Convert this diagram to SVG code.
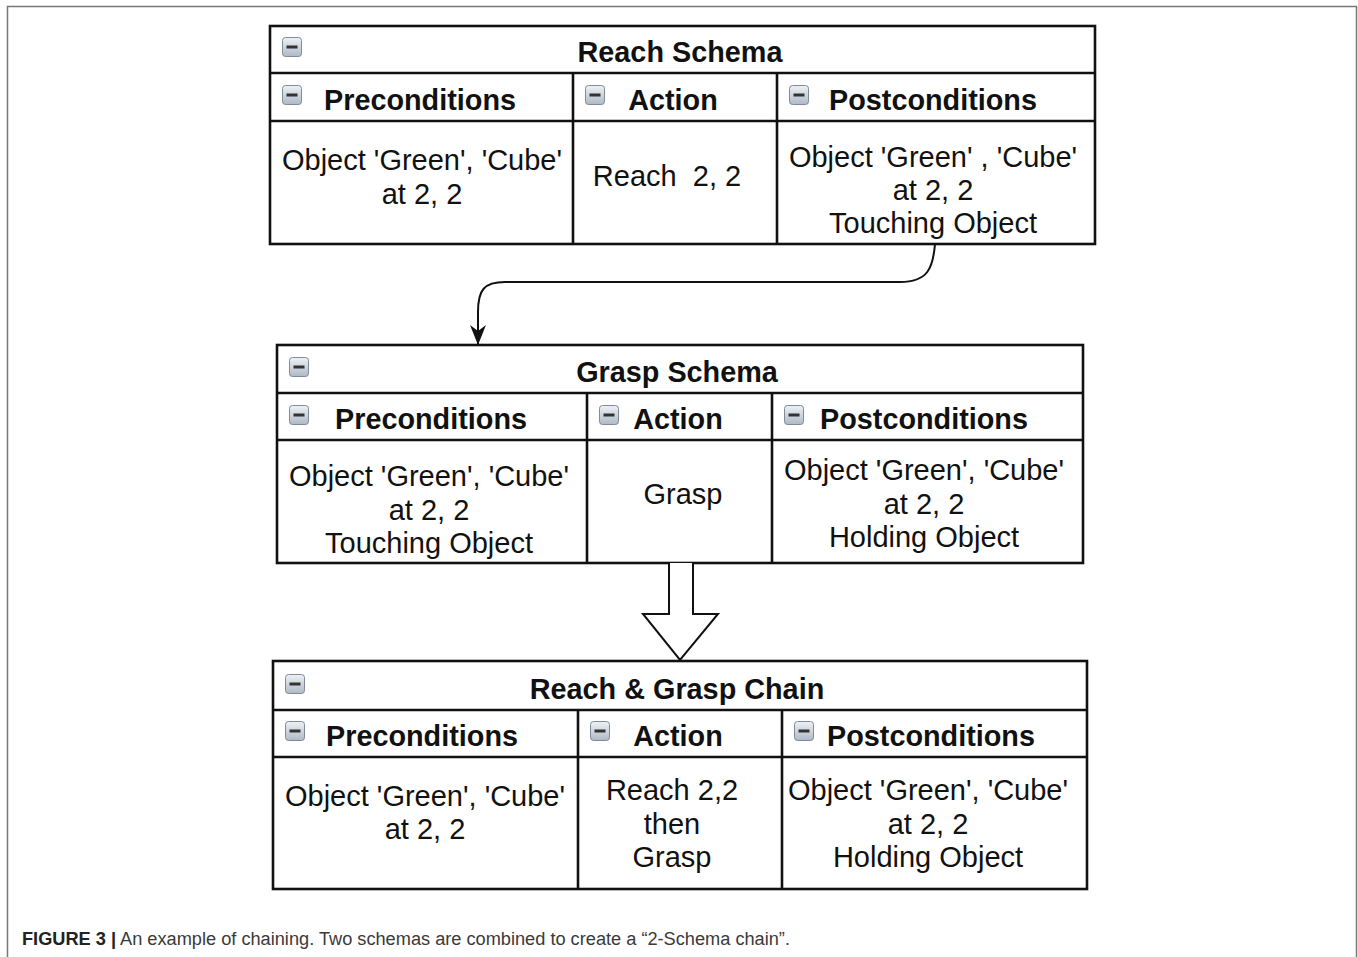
<svg xmlns="http://www.w3.org/2000/svg" width="1358" height="957" viewBox="0 0 1358 957">
<style>
.box{fill:#fff;stroke:#111;stroke-width:2.6}
.ln{stroke:#111;stroke-width:2.6;fill:none}
.t{font-family:"Liberation Sans",Arial,sans-serif;font-size:28.8px;font-weight:bold;fill:#111;text-anchor:middle}
.b{font-family:"Liberation Sans",Arial,sans-serif;font-size:29px;fill:#111;text-anchor:middle}
.cap{font-family:"Liberation Sans",Arial,sans-serif;font-size:18px;fill:#3a3a3a}
</style>
<defs>
<linearGradient id="ig" x1="0" y1="0" x2="0" y2="1">
<stop offset="0" stop-color="#eef2f7"/>
<stop offset="1" stop-color="#aeb9c6"/>
</linearGradient>
<g id="icon">
<rect x="0.5" y="0.5" width="19" height="19" rx="3" fill="url(#ig)" stroke="#7f8b98" stroke-width="1"/>
<rect x="4.5" y="8.5" width="11" height="3" fill="#333"/>
</g>
<marker id="ah" viewBox="0 0 20 16" refX="20" refY="8" markerWidth="20" markerHeight="16" markerUnits="userSpaceOnUse" orient="auto">
<path d="M0 0 L20 8 L0 16 L6 8 Z" fill="#111"/>
</marker>
</defs>
<rect width="1358" height="957" fill="#fff"/>
<path d="M7.5 957 V6.5 H1356.5 V957" fill="none" stroke="#777" stroke-width="1.5"/>

<g id="reach-schema">
<rect class="box" x="270" y="26" width="825" height="218"/>
<line class="ln" x1="270" y1="73" x2="1095" y2="73"/>
<line class="ln" x1="270" y1="121" x2="1095" y2="121"/>
<line class="ln" x1="573" y1="73" x2="573" y2="244"/>
<line class="ln" x1="777" y1="73" x2="777" y2="244"/>
<use href="#icon" x="282" y="37"/>
<use href="#icon" x="282" y="85"/>
<use href="#icon" x="585" y="85"/>
<use href="#icon" x="789" y="85"/>
<text class="t" x="680" y="62">Reach Schema</text>
<text class="t" x="420" y="110">Preconditions</text>
<text class="t" x="673" y="110">Action</text>
<text class="t" x="933" y="110">Postconditions</text>
<text class="b" x="422" y="170">Object 'Green', 'Cube'</text>
<text class="b" x="422" y="204">at 2, 2</text>
<text class="b" x="667" y="186" xml:space="preserve">Reach  2, 2</text>
<text class="b" x="933" y="167">Object 'Green' , 'Cube'</text>
<text class="b" x="933" y="200">at 2, 2</text>
<text class="b" x="933" y="233">Touching Object</text>
</g>

<g id="grasp-schema">
<rect class="box" x="277" y="345" width="806" height="218"/>
<line class="ln" x1="277" y1="393" x2="1083" y2="393"/>
<line class="ln" x1="277" y1="440" x2="1083" y2="440"/>
<line class="ln" x1="587" y1="393" x2="587" y2="563"/>
<line class="ln" x1="772" y1="393" x2="772" y2="563"/>
<use href="#icon" x="289" y="357"/>
<use href="#icon" x="289" y="405"/>
<use href="#icon" x="599" y="405"/>
<use href="#icon" x="784" y="405"/>
<text class="t" x="677" y="382">Grasp Schema</text>
<text class="t" x="431" y="429">Preconditions</text>
<text class="t" x="678" y="429">Action</text>
<text class="t" x="924" y="429">Postconditions</text>
<text class="b" x="429" y="486">Object 'Green', 'Cube'</text>
<text class="b" x="429" y="520">at 2, 2</text>
<text class="b" x="429" y="553">Touching Object</text>
<text class="b" x="683" y="504">Grasp</text>
<text class="b" x="924" y="480">Object 'Green', 'Cube'</text>
<text class="b" x="924" y="514">at 2, 2</text>
<text class="b" x="924" y="547">Holding Object</text>
</g>

<g id="chain">
<rect class="box" x="273" y="661" width="814" height="228"/>
<line class="ln" x1="273" y1="710" x2="1087" y2="710"/>
<line class="ln" x1="273" y1="757" x2="1087" y2="757"/>
<line class="ln" x1="578" y1="710" x2="578" y2="889"/>
<line class="ln" x1="782" y1="710" x2="782" y2="889"/>
<use href="#icon" x="285" y="674"/>
<use href="#icon" x="285" y="721"/>
<use href="#icon" x="590" y="721"/>
<use href="#icon" x="794" y="721"/>
<text class="t" x="677" y="699">Reach &amp; Grasp Chain</text>
<text class="t" x="422" y="746">Preconditions</text>
<text class="t" x="678" y="746">Action</text>
<text class="t" x="931" y="746">Postconditions</text>
<text class="b" x="425" y="806">Object 'Green', 'Cube'</text>
<text class="b" x="425" y="839">at 2, 2</text>
<text class="b" x="672" y="800">Reach 2,2</text>
<text class="b" x="672" y="834">then</text>
<text class="b" x="672" y="867">Grasp</text>
<text class="b" x="928" y="800">Object 'Green', 'Cube'</text>
<text class="b" x="928" y="834">at 2, 2</text>
<text class="b" x="928" y="867">Holding Object</text>
</g>

<g id="connectors">
<path d="M935 244 C933 268 928 282 900 282 L505 282 C484 282 478 290 478 312 L478 345" fill="none" stroke="#111" stroke-width="2" marker-end="url(#ah)"/>
<path d="M669 563 V614 H643 L680 660 L718 614 H693 V563" fill="#fff" stroke="#111" stroke-width="2" stroke-linejoin="miter"/>
</g>

<text x="22" y="945" class="cap" textLength="768" lengthAdjust="spacingAndGlyphs"><tspan font-weight="bold" fill="#222">FIGURE 3 |</tspan> An example of chaining. Two schemas are combined to create a “2-Schema chain”.</text>
</svg>
